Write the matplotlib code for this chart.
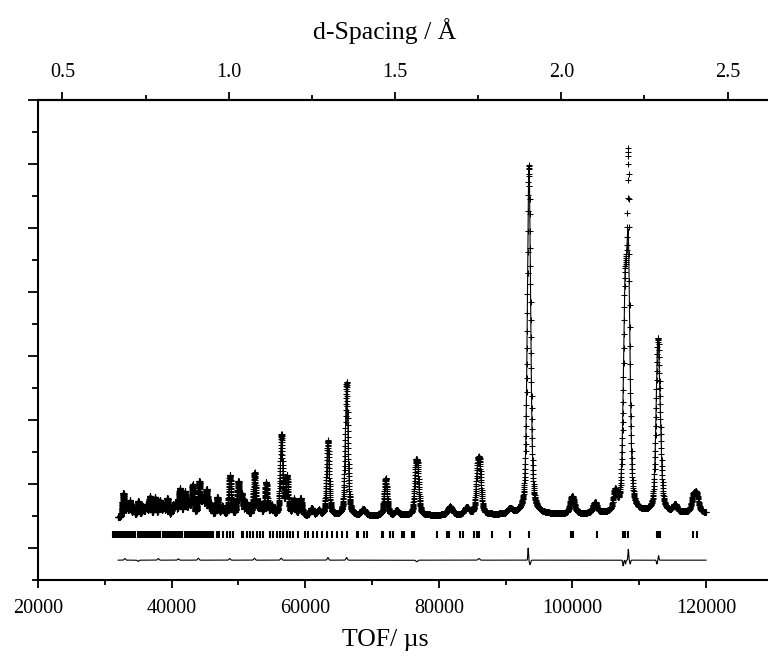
import numpy as np
import matplotlib
matplotlib.use("Agg")
import matplotlib.pyplot as plt
from matplotlib.ticker import MultipleLocator, FixedLocator, NullFormatter

plt.rcParams['font.family'] = ['Liberation Serif', 'DejaVu Serif']

# ---------------- data ----------------
# TOF range of the measured pattern (us) and binning (dt/t)
tof_start, tof_stop, dt_over_t = 32000, 120000, 0.00025

# background level (intensity, arb. units) at the two ends of the pattern
bg_tof = [32000, 120000]
bg_val = [470, 545]

# Bragg peaks of the fitted profile: centre (us), height above background, FWHM (us)
peak_tof = [32770, 33300, 33770, 34300, 35020, 35700, 36200, 36770, 37520, 38260,
            38800, 39360, 40200, 40600, 41260, 42000, 42600, 43160, 44150, 44700,
            45250, 45900, 46840, 47600, 48740, 49990, 50500, 51200, 52420, 53200,
            54150, 55000, 56450, 57270, 58320, 59320, 60970, 62000, 63400, 66200,
            68700, 72050, 73700, 76550, 76850, 81680, 84180, 85800, 86150, 90660,
            93500, 99890, 100200, 103380, 106380, 107870, 108370, 112770, 113110,
            115360, 118100, 118600]
peak_height = [380, 150, 250, 150, 260, 150, 180, 320, 300, 250,
               150, 280, 160, 200, 430, 380, 200, 480, 520, 250,
               400, 180, 290, 150, 620, 520, 300, 200, 640, 200,
               520, 150, 1230, 600, 250, 270, 120, 80, 1130, 2050,
               100, 580, 80, 650, 600, 130, 110, 620, 620, 80,
               5450, 220, 100, 170, 300, 3000, 3750, 2380, 700,
               120, 230, 260]
peak_fwhm = [320, 320, 320, 320, 340, 340, 340, 350, 350, 360,
             360, 370, 370, 370, 380, 380, 380, 390, 400, 400,
             400, 400, 410, 410, 420, 420, 420, 420, 430, 430,
             430, 430, 440, 440, 440, 440, 520, 520, 460, 480,
             700, 500, 600, 450, 450, 800, 800, 520, 520, 800,
             580, 620, 620, 700, 580, 600, 600, 620, 620,
             700, 680, 680]
peak_eta = 0.5  # Lorentzian fraction of the pseudo-Voigt shape

# observed points that lie above the fit (top of the 108 ms peak)
obs_extra_tof = [108370]
obs_extra_height = [1150]
obs_extra_fwhm = [220]

# difference curve: offset and misfit features (centre, amplitude, FWHM)
diff_offset = -190
diff_tof = [33000, 35000, 38000, 41000, 44000, 48700, 52400, 56400, 63400, 66200,
            76700, 86000, 93380, 93650, 107600, 107950, 108370, 108650, 112650, 112900]
diff_amp = [25, -20, 25, 20, 30, 25, 30, 30, 40, 40,
            -25, 25, 190, -70, -90, -60, 170, -60, -60, 70]
diff_fwhm = [250, 250, 250, 250, 250, 250, 250, 250, 250, 250,
             300, 300, 130, 220, 160, 130, 130, 160, 160, 130]

# reflection positions (us)
refl_tof = [31300, 31550, 31800, 32050, 32300, 32550, 32800, 33050, 33300, 33550,
            33800, 34050, 34300, 34550,
            35000, 35250, 35500, 35750, 36000, 36250, 36500, 36750, 37000, 37250,
            37500, 37750, 38000, 38300,
            38750, 39000, 39250, 39500, 39750, 40000, 40250, 40500, 40750, 41000,
            41250, 41550,
            41950, 42200, 42450, 42700, 42950, 43200, 43450, 43700, 43950, 44200,
            44450, 44700, 44950, 45200, 45450, 45700, 45950, 46200,
            46750, 47140, 47740, 48240, 48740, 49240, 50490, 50730, 51240, 51740,
            52230, 52740, 53230, 53730, 54730, 55220, 55730, 56230, 56720, 57230,
            57720, 58220, 58970, 59970, 60460, 61210, 61720, 62470, 63220, 63970,
            64720, 65460, 66210, 67700, 67950, 68800, 69300, 71450, 71700, 72700,
            73200, 74500, 74750, 75950, 76250, 79750, 81200, 81550, 83200, 83650,
            85250, 85750, 86050, 87900, 90650, 93450, 99750, 100050, 103650, 107550,
            107900, 108250, 112600, 112850, 113100, 118100, 118600]
refl_lo, refl_hi = 150, 260

# axis ranges, tick values and the TOF <-> d-spacing conversion
x_range = (20000, 129280)
y_range = (-500, 7000)
d_ticks = [0.5, 1.0, 1.5, 2.0, 2.5]
d_minor = [0.75, 1.25, 1.75, 2.25]
difc, zero = 49775.0, -1220.0


# ---------------- build the profile from the peak list ----------------
def pseudo_voigt(t, centres, heights, fwhms, eta):
    out = np.zeros_like(t)
    for c, h, w in zip(centres, heights, fwhms):
        x = (t - c) / (w / 2.0)
        out += h * (eta / (1 + x ** 2) + (1 - eta) * np.exp(-np.log(2) * x ** 2))
    return out


n_pts = int(np.log(tof_stop / tof_start) / dt_over_t) + 1
tof = tof_start * np.exp(dt_over_t * np.arange(n_pts))
background = np.interp(tof, bg_tof, bg_val)
calc = background + pseudo_voigt(tof, peak_tof, peak_height, peak_fwhm, peak_eta)
misfit = pseudo_voigt(tof, diff_tof, diff_amp, diff_fwhm, 0.0)
obs = calc + misfit + pseudo_voigt(tof, obs_extra_tof, obs_extra_height, obs_extra_fwhm, 0.0)
diff = diff_offset + misfit

# ---------------- figure ----------------
fig = plt.figure(figsize=(7.68, 6.56), dpi=100)
W, H = 768, 656
ax = fig.add_axes([38 / W, 1 - 580 / H, (W - 38) / W, (580 - 100) / H])

ax.plot(tof, obs, linestyle='none', marker='+', markersize=4.3, markeredgewidth=0.75,
        color='black', zorder=2)
ax.plot(tof, calc, color='black', linewidth=0.8, zorder=3)
ax.vlines(refl_tof, refl_lo, refl_hi, color='black', linewidth=1.5)
ax.plot(tof, diff, color='black', linewidth=0.8)

ax.set_xlim(*x_range)
ax.set_ylim(*y_range)

for side in ('left', 'bottom', 'top'):
    ax.spines[side].set_linewidth(1.5)
ax.spines['right'].set_visible(False)

ax.xaxis.set_major_locator(MultipleLocator(20000))
ax.xaxis.set_minor_locator(MultipleLocator(10000))
ax.yaxis.set_major_locator(MultipleLocator(1000))
ax.yaxis.set_minor_locator(MultipleLocator(500))
ax.yaxis.set_major_formatter(NullFormatter())
ax.tick_params(axis='y', which='major', direction='out', length=7.5, width=1.3, left=True, right=False)
ax.tick_params(axis='y', which='minor', direction='out', length=4, width=1.3, left=True, right=False)
ax.tick_params(axis='x', which='major', direction='out', length=6, width=1.3, labelsize=14.5, pad=8,
               top=False)
ax.tick_params(axis='x', which='minor', direction='out', length=3.5, width=1.3, top=False)

sec = ax.secondary_xaxis('top', functions=(lambda t: (t - zero) / difc, lambda d: d * difc + zero))
sec.xaxis.set_major_locator(FixedLocator(d_ticks))
sec.xaxis.set_minor_locator(FixedLocator(d_minor))
sec.xaxis.set_major_formatter(plt.FuncFormatter(lambda v, p: f"{v:.1f}"))
sec.tick_params(axis='x', which='major', direction='out', length=6, width=1.3, labelsize=14.5, pad=7)
sec.tick_params(axis='x', which='minor', direction='out', length=3.5, width=1.3)
sec.spines['top'].set_linewidth(1.5)

fig.text(385 / W, 1 - 31 / H, 'd-Spacing / Å', ha='center', va='center', fontsize=18.5)
fig.text(385 / W, 1 - 640 / H, 'TOF/ µs', ha='center', va='center', fontsize=18.5)

fig.savefig('out.png', dpi=100)
